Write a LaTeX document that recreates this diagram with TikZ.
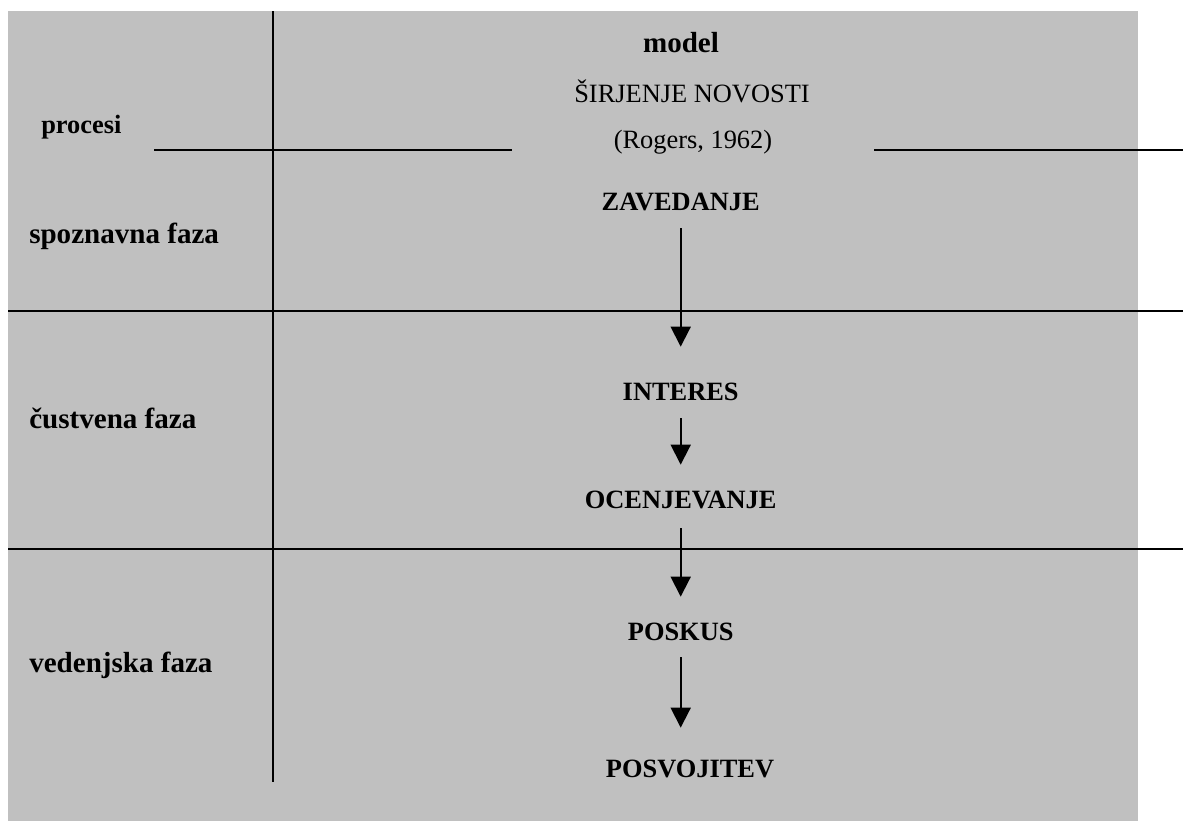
\documentclass[tikz,border=0pt]{standalone}
\usepackage{fontspec}
\setmainfont{Liberation Serif}
\usetikzlibrary{arrows.meta}
\definecolor{bggray}{RGB}{192,192,192}
\tikzset{
  phase/.style={font=\fontsize{21.8}{26}\selectfont\bfseries, inner sep=0pt, anchor=base west},
  proc/.style={font=\fontsize{19.8}{24}\selectfont\bfseries, inner sep=0pt, anchor=base west},
  hdb/.style={font=\fontsize{21.8}{26}\selectfont\bfseries, inner sep=0pt, anchor=base},
  hd/.style={font=\fontsize{19.8}{24}\selectfont, inner sep=0pt, anchor=base},
  stage/.style={font=\fontsize{19.8}{24}\selectfont\bfseries, inner sep=0pt, anchor=base, text height=13pt, text depth=0pt},
  rule/.style={line width=1.5pt},
  arr/.style={line width=1.4pt, -{Triangle[width=15pt,length=15pt]}}
}
\begin{document}
\begin{tikzpicture}[x=0.75pt,y=-0.75pt]
\useasboundingbox (0,0) rectangle (1183,821);
\fill[bggray] (8,11) rectangle (1138,821);
% grid lines
\draw[rule] (273,11) -- (273,782);
\draw[rule] (154,150) -- (512,150);
\draw[rule] (874,150) -- (1183,150);
\draw[rule] (8,311) -- (1183,311);
\draw[rule] (8,549) -- (1183,549);
% left column
\node[proc] (proc) at (41,133) {procesi};
\node[phase] (spo) at (29,243) {spoznavna faza};
\node[phase] (cus) at (29,428) {čustvena faza};
\node[phase] (ved) at (29,672) {vedenjska faza};
% header
\node[hdb] (model) at (681,52) {model};
\node[hd] (sir) at (692,102) {ŠIRJENJE NOVOSTI};
\node[hd] (rog) at (693,148) {(Rogers, 1962)};
% stages
\node[stage] (zav) at (680.7,210) {ZAVEDANJE};
\node[stage] (int) at (680.7,400) {INTERES};
\node[stage] (oce) at (680.7,508) {OCENJEVANJE};
\node[stage] (posk) at (680.7,640) {POSKUS};
\node[stage] (posv) at (690,777) {POSVOJITEV};
% arrows
\draw[arr, shorten <=13.5pt, shorten >=26.8pt] (zav.south) -- (zav.south |- int.north);
\draw[arr, shorten <=13.5pt, shorten >=19.3pt] (int.south) -- (int.south |- oce.north);
\draw[arr, shorten <=15pt, shorten >=19.3pt] (oce.south) -- (oce.south |- posk.north);
\draw[arr, shorten <=12.75pt, shorten >=23.8pt] (posk.south) -- (posk.south |- posv.north);
\end{tikzpicture}
\end{document}
